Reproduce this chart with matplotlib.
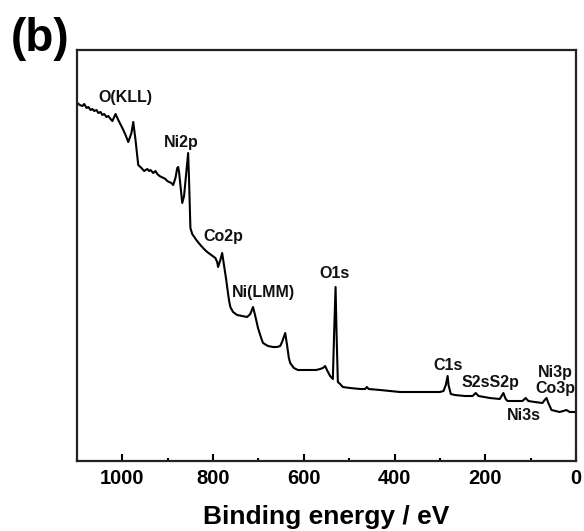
import matplotlib
matplotlib.use("Agg")
import matplotlib.pyplot as plt
from matplotlib.ticker import MultipleLocator

# Binding energy (eV) and intensity (a.u.)
energy = [1099, 1094, 1088, 1084, 1079, 1075, 1070, 1066, 1062, 1057, 1053, 1048,
          1044, 1040, 1035, 1031, 1026, 1022, 1015, 1009,
          1000, 993, 987, 980, 976, 971, 965, 958, 952, 945, 941, 938, 932, 927,
          923, 918, 914, 909, 905, 901, 897, 892, 888, 883, 879, 877, 875, 872,
          868, 864, 859, 855, 853, 850,
          846, 837, 828, 820, 813, 804, 795, 791, 789, 784, 780, 776, 771, 769,
          765, 762, 756, 747, 736, 725, 718, 712, 707, 701, 694, 690, 679, 668,
          659, 652, 648, 641, 637, 633, 630, 622, 613, 600, 586, 573, 564, 558,
          553, 549, 542, 536, 533, 530, 528, 525, 520, 514, 498, 476, 465, 461,
          457, 432, 388, 344, 300, 292, 287, 283, 281, 276, 267, 245, 228, 221,
          215, 190, 168, 164, 160, 155, 151, 135, 118, 111, 105, 91, 74, 69, 65,
          61, 54, 45, 36, 28, 21, 14, 0]
intensity = [358, 356, 355, 357, 353, 354, 351, 352, 350, 351, 348, 349,
             346, 347, 344, 345, 342, 340, 347, 341,
             333, 326, 319, 328, 339, 321, 296, 293, 290, 292, 290, 291, 288, 290,
             287, 285, 284, 283, 282, 280, 279, 278, 276, 283, 293, 294, 289, 276,
             258, 265, 289, 308, 281, 233,
             227, 221, 216, 212, 209, 206, 203, 199, 194, 201, 208, 196, 181, 174,
             161, 154, 149, 146, 145, 144, 147, 154, 145, 133, 123, 118, 115, 114,
             114, 115, 119, 128, 116, 103, 98, 93, 91, 91, 91, 91, 92, 93,
             95, 91, 85, 82, 131, 174, 131, 79, 77, 74, 73, 72, 72, 74,
             72, 71, 69, 69, 69, 70, 76, 85, 76, 67, 66, 65, 65, 68, 65,
             63, 62, 65, 68, 62, 60, 60, 60, 63, 60, 59, 58, 61, 63,
             58, 51, 50, 49, 50, 51, 49, 49]

# Peak labels and their positions (eV, intensity)
peak_labels = ["O(KLL)", "Ni2p", "Co2p", "Ni(LMM)", "O1s", "C1s", "S2sS2p",
               "Ni3p", "Co3p", "Ni3s"]
label_energy = [994, 870, 778, 688, 533, 281, 189, 46, 45, 115]
label_intensity = [364, 319, 224, 169, 188, 96, 78, 88, 73, 46]

x_ticks = [1000, 800, 600, 400, 200, 0]

FONT = "Liberation Sans"

fig = plt.figure(figsize=(5.84, 5.31), dpi=100)
ax = fig.add_axes([77 / 584, 70 / 531, 499 / 584, 411 / 531])

ax.plot(energy, intensity, color="black", lw=1.5)

ax.set_xlim(1100, 0)
ax.set_ylim(0, 411)
ax.set_yticks([])
ax.set_xticks(x_ticks)
ax.xaxis.set_minor_locator(MultipleLocator(100))
ax.tick_params(axis="x", which="major", direction="in", length=5, width=1.5,
               pad=6, labelsize=14.5, top=False)
ax.tick_params(axis="x", which="minor", direction="in", length=2.5, width=1.5,
               top=False)
for lab in ax.get_xticklabels():
    lab.set_fontfamily(FONT)
    lab.set_fontweight("bold")

for sp in ax.spines.values():
    sp.set_linewidth(1.6)
    sp.set_color("#222222")

ax.set_xlabel("Binding energy / eV", fontsize=19, fontweight="bold",
              family=FONT, labelpad=12)

for t, xe, yi in zip(peak_labels, label_energy, label_intensity):
    ax.text(xe, yi, t, ha="center", va="center", fontsize=11.5,
            fontweight="bold", family=FONT, color="#111111")

fig.text(11 / 584, 1 - 39 / 531, "(b)", ha="left", va="center", fontsize=33,
         fontweight="bold", family=FONT)

fig.savefig("out.png", dpi=100)
